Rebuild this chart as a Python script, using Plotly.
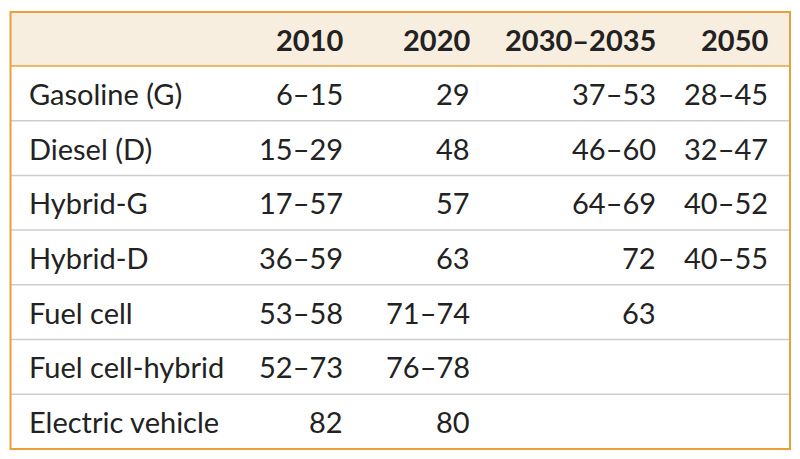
import plotly.graph_objects as go

# dane tabeli
vehicles = ["Gasoline (G)", "Diesel (D)", "Hybrid-G", "Hybrid-D",
            "Fuel cell", "Fuel cell-hybrid", "Electric vehicle"]
years = ["2010", "2020", "2030–2035", "2050"]
v2010 = ["6–15", "15–29", "17–57", "36–59", "53–58", "52–73", "82"]
v2020 = ["29", "48", "57", "63", "71–74", "76–78", "80"]
v2030 = ["37–53", "46–60", "64–69", "72", "63", "", ""]
v2050 = ["28–45", "32–47", "40–52", "40–55", "", "", ""]
columns = [v2010, v2020, v2030, v2050]

# geometria (piksele strony; body ma 8 px marginesu)
left, right, top = 10.5, 790, 12
head_h, row_h = 54, 54.7
label_x = 27
col_right = [345, 472, 658, 770]

ORANGE = "#E8A03C"
HEAD_BG = "#F8EEDF"
GRID = "#CDCDCD"
TXT = "#222222"
FONT = "Lato"
SIZE = 29

head_bot = top + head_h
bottom = head_bot + row_h * len(vehicles)

shapes = [dict(type="rect", x0=left, x1=right, y0=top, y1=head_bot,
               fillcolor=HEAD_BG, line=dict(width=0), layer="below")]
for i in range(1, len(vehicles)):
    y = head_bot + i * row_h
    shapes.append(dict(type="line", x0=left, x1=right, y0=y, y1=y,
                       line=dict(color=GRID, width=1.5)))
shapes.append(dict(type="line", x0=left, x1=right, y0=head_bot, y1=head_bot,
                   line=dict(color=ORANGE, width=1.5)))
shapes.append(dict(type="rect", x0=left, x1=right, y0=top, y1=bottom,
                   line=dict(color=ORANGE, width=2)))

annotations = []
for x, yr in zip(col_right, years):
    annotations.append(dict(x=x, y=top + head_h / 2, text="<b>" + yr + "</b>",
                            xanchor="right", yanchor="middle", showarrow=False,
                            font=dict(family=FONT, size=SIZE, color=TXT)))
for i, name in enumerate(vehicles):
    yc = head_bot + (i + 0.5) * row_h
    annotations.append(dict(x=label_x, y=yc, text=name, xanchor="left",
                            yanchor="middle", showarrow=False,
                            font=dict(family=FONT, size=SIZE, color=TXT)))
    for x, col in zip(col_right, columns):
        if col[i]:
            annotations.append(dict(x=x, y=yc, text=col[i], xanchor="right",
                                    yanchor="middle", showarrow=False,
                                    font=dict(family=FONT, size=SIZE, color=TXT)))

fig = go.Figure()
fig.update_layout(
    width=784, height=443,
    margin=dict(l=0, r=0, t=0, b=0),
    paper_bgcolor="white", plot_bgcolor="white",
    xaxis=dict(range=[8, 792], visible=False, fixedrange=True),
    yaxis=dict(range=[451, 8], visible=False, fixedrange=True),
    shapes=shapes, annotations=annotations,
    showlegend=False,
)

fig.write_html("out.html")
